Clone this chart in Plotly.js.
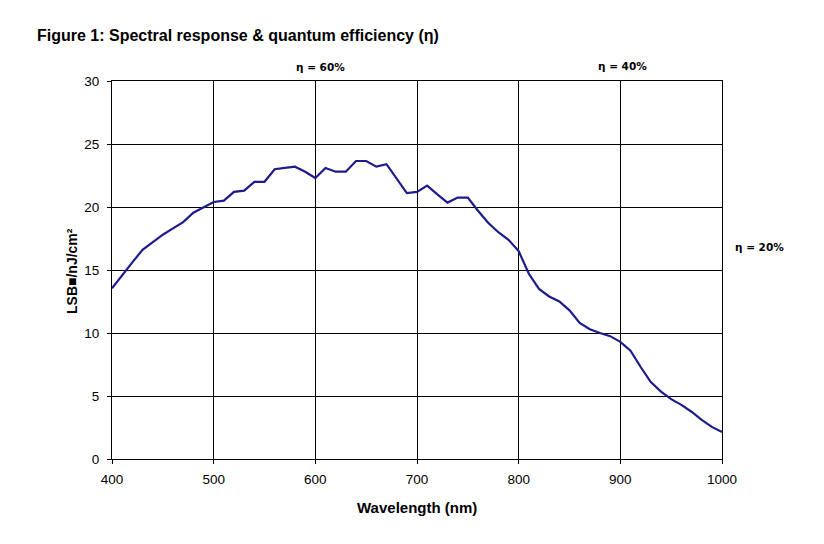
<!DOCTYPE html>
<html>
<head>
<meta charset="utf-8">
<script src="https://cdn.plot.ly/plotly-3.0.1.min.js"></script>
<style>html,body{margin:0;padding:0;background:#fff;}#chart{width:824px;height:544px;}</style>
</head>
<body>
<div id="chart"></div>
<script>
const wavelength = [400,410,420,430,440,450,460,470,480,490,500,510,520,530,540,550,560,570,580,590,600,610,620,630,640,650,660,670,680,690,700,710,720,730,740,750,760,770,780,790,800,810,820,830,840,850,860,870,880,890,900,910,920,930,940,950,960,970,980,990,1000];
const response = [13.55,14.6,15.6,16.6,17.2,17.8,18.3,18.8,19.55,20.0,20.4,20.5,21.2,21.3,22.0,22.0,23.0,23.1,23.2,22.8,22.3,23.1,22.8,22.8,23.65,23.65,23.2,23.4,22.2,21.1,21.2,21.7,21.0,20.35,20.75,20.75,19.7,18.75,18.0,17.4,16.5,14.7,13.5,12.9,12.5,11.8,10.8,10.3,10.0,9.75,9.3,8.6,7.3,6.1,5.35,4.75,4.3,3.75,3.1,2.55,2.15];
const xTicks = [400,500,600,700,800,900,1000];
const yTicks = [0,5,10,15,20,25,30];
const etaLabels = ["η = 60%","η = 40%","η = 20%"];

const font = "Arial, 'Liberation Sans', sans-serif";
const etaFont = {size: 10.5, family: "'DejaVu Sans', sans-serif", color: '#000'};
const trace = {
  x: wavelength, y: response, type: 'scatter', mode: 'lines',
  line: {color: '#1c1c8a', width: 2.2}, hoverinfo: 'skip'
};
const layout = {
  width: 824, height: 544,
  margin: {l: 112, r: 102, t: 81, b: 85},
  paper_bgcolor: '#fff', plot_bgcolor: '#fff',
  showlegend: false,
  font: {family: font, color: '#000', size: 12},
  title: {text: '<b>Figure 1: Spectral response & quantum efficiency (η)</b>',
    x: 37/824, xanchor: 'left', xref: 'container', y: 1 - 35/544, yanchor: 'middle', yref: 'container',
    font: {family: font, size: 16, color: '#000'}},
  xaxis: {range: [400, 1000], tickvals: xTicks, ticktext: xTicks.map(String),
    showgrid: true, gridcolor: '#000', gridwidth: 1, zeroline: false,
    showline: true, linecolor: '#000', linewidth: 1, mirror: true,
    ticks: 'outside', ticklen: 4, tickcolor: '#000', ticklabelstandoff: 4,
    tickfont: {size: 13.5, family: font, color: '#000'}},
  yaxis: {range: [0, 30], tickvals: yTicks, ticktext: yTicks.map(String),
    showgrid: true, gridcolor: '#000', gridwidth: 1, zeroline: false,
    showline: true, linecolor: '#000', linewidth: 1, mirror: true,
    ticks: 'outside', ticklen: 4, tickcolor: '#000', ticklabelstandoff: 5,
    tickfont: {size: 13.5, family: font, color: '#000'}},
  annotations: [
    {text: '<b>Wavelength (nm)</b>', xref: 'paper', yref: 'paper', x: 0.5, y: (459-507)/378,
      xanchor: 'center', yanchor: 'middle', showarrow: false, font: {size: 15, family: font}},
    {text: '<b>LSB■/nJ/cm²</b>', xref: 'paper', yref: 'paper', x: (72-112)/610, y: (459-271)/378,
      xanchor: 'center', yanchor: 'middle', textangle: -90, showarrow: false, font: {size: 14, family: font}},
    {text: '<b>' + etaLabels[0] + '</b>', xref: 'paper', yref: 'paper', x: (320-112)/610, y: (459-67)/378,
      xanchor: 'center', yanchor: 'middle', showarrow: false, font: etaFont},
    {text: '<b>' + etaLabels[1] + '</b>', xref: 'paper', yref: 'paper', x: (622-112)/610, y: (459-66)/378,
      xanchor: 'center', yanchor: 'middle', showarrow: false, font: etaFont},
    {text: '<b>' + etaLabels[2] + '</b>', xref: 'paper', yref: 'paper', x: (760-112)/610, y: (459-247)/378,
      xanchor: 'center', yanchor: 'middle', showarrow: false, font: etaFont}
  ]
};
Plotly.newPlot('chart', [trace], layout, {displayModeBar: false, staticPlot: true});
</script>
</body>
</html>
